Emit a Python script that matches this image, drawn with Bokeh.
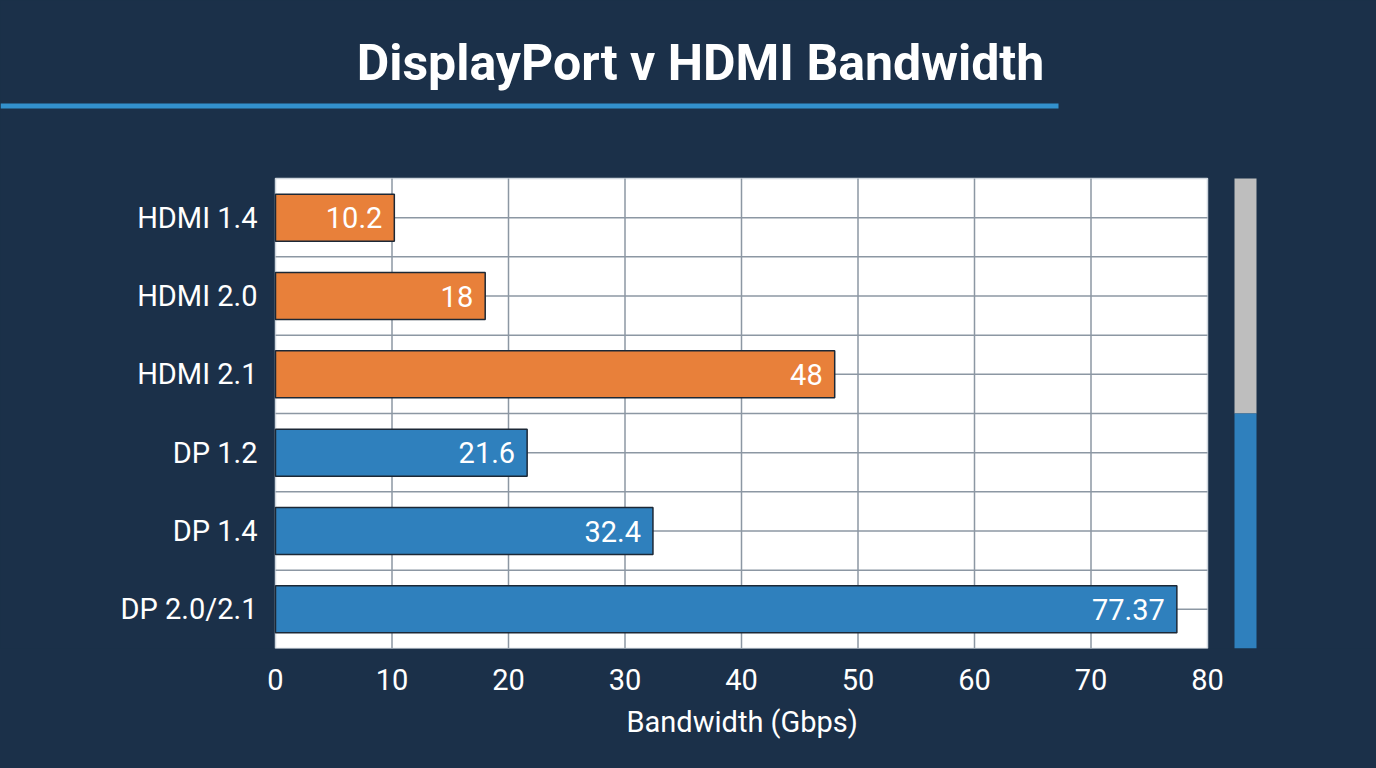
from bokeh.plotting import figure
from bokeh.models import ColumnDataSource, FixedTicker, Title
from bokeh.core.properties import value
from bokeh.embed import file_html
from bokeh.resources import INLINE

# ---- data ----
categories = ["HDMI 1.4", "HDMI 2.0", "HDMI 2.1", "DP 1.2", "DP 1.4", "DP 2.0/2.1"]
bandwidth = [10.2, 18, 48, 21.6, 32.4, 77.37]
families = ["HDMI", "HDMI", "HDMI", "DP", "DP", "DP"]
value_labels = ["10.2", "18", "48", "21.6", "32.4", "77.37"]
x_ticks = [0, 10, 20, 30, 40, 50, 60, 70, 80]
title_text = "DisplayPort v HDMI Bandwidth"
x_label = "Bandwidth (Gbps)"

# ---- styling ----
NAVY = "#1b3049"
ORANGE = "#e8803a"
BLUE = "#2f80bd"
GREY_SIDE = "#bebebe"
ACCENT = "#3391cd"
GRID = "#8c97a3"
FONT = "Roboto"
family_color = {"HDMI": ORANGE, "DP": BLUE}

# ---- canvas geometry (pixels) ----
W, H = 1376, 768
BOTTOM = 120                       # room for the x axis
PANEL_L, PANEL_R = 275, 1207       # white panel, left / right edge
PANEL_T = 178                      # white panel, top edge
FRAME_H = H - BOTTOM

n = len(categories)
x_max = x_ticks[-1]
px_x = (PANEL_R - PANEL_L) / x_max          # pixels per Gbps
px_y = (FRAME_H - PANEL_T) / n              # pixels per row
x0 = -PANEL_L / px_x
x1 = (W - PANEL_L) / px_x
y1 = FRAME_H / px_y


def sx(px):
    return (px - PANEL_L) / px_x


def sy(py):
    return (FRAME_H - py) / px_y


y_pos = [n - i - 0.5 for i in range(n)]

src = ColumnDataSource(dict(
    y=y_pos, v=bandwidth, label=value_labels, cat=categories,
    color=[family_color[f] for f in families],
))

p = figure(width=W, height=H, x_range=(x0, x1), y_range=(0, y1),
           output_backend="svg", toolbar_location=None,
           min_border_left=0, min_border_right=0,
           min_border_top=0, min_border_bottom=BOTTOM)
p.background_fill_color = NAVY
p.border_fill_color = None
p.styles = {"background-color": NAVY}
p.outline_line_color = None
p.xgrid.visible = False
p.ygrid.visible = False
p.yaxis.visible = False

# white panel
p.quad(left=[0], right=[x_max], bottom=[0], top=[n], fill_color="white",
       line_color="#cfd6de", line_width=1.5)

# grid: vertical at inner ticks, horizontal at row centres and boundaries
inner = x_ticks[1:-1]
p.segment(x0=inner, y0=[0] * len(inner), x1=inner, y1=[n] * len(inner),
          line_color=GRID, line_width=1.5)
hy = [k / 2 for k in range(1, 2 * n)]
p.segment(x0=[0] * len(hy), y0=hy, x1=[x_max] * len(hy), y1=hy,
          line_color=GRID, line_width=1.5)

# bars with value labels
p.hbar(y="y", right="v", left=0, height=0.6, source=src,
       fill_color="color", line_color="#1c2836", line_width=1.5)
p.text(x="v", y="y", text="label", source=src, x_offset=-12,
       text_font=value(FONT), text_font_size="29px", text_color="white",
       text_align="right", text_baseline="middle")

# category labels
p.text(x=0, y="y", text="cat", source=src, x_offset=-18,
       text_font=value(FONT), text_font_size="29px", text_color="white",
       text_align="right", text_baseline="middle")

# family strip to the right of the panel
hdmi_rows = sum(1 for f in families if f == "HDMI")
p.quad(left=[sx(1234)] * 2, right=[sx(1256)] * 2,
       bottom=[n - hdmi_rows, 0], top=[n, n - hdmi_rows],
       fill_color=[GREY_SIDE, BLUE], line_color=None)

# heading and accent rule
p.text(x=[sx(700)], y=[sy(62)], text=[title_text], text_font=value(FONT),
       text_font_style="bold", text_font_size="50px", text_color="white",
       text_align="center", text_baseline="middle")
p.segment(x0=[x0], y0=[sy(105.5)], x1=[sx(1058)], y1=[sy(105.5)],
          line_color=ACCENT, line_width=5)

# x axis
ax = p.xaxis[0]
ax.ticker = FixedTicker(ticks=x_ticks)
ax.axis_line_color = None
ax.major_tick_line_color = None
ax.minor_tick_line_color = None
ax.major_label_text_color = "white"
ax.major_label_text_font = FONT
ax.major_label_text_font_size = "29px"
ax.major_label_standoff = 14

# axis caption, centred under the 0-80 span
p.add_layout(Title(text=x_label, align="left", offset=626, standoff=20,
                   text_color="white", text_font=FONT, text_font_size="29px",
                   text_font_style="normal"), "below")

open("out.html", "w").write(file_html(p, INLINE))
